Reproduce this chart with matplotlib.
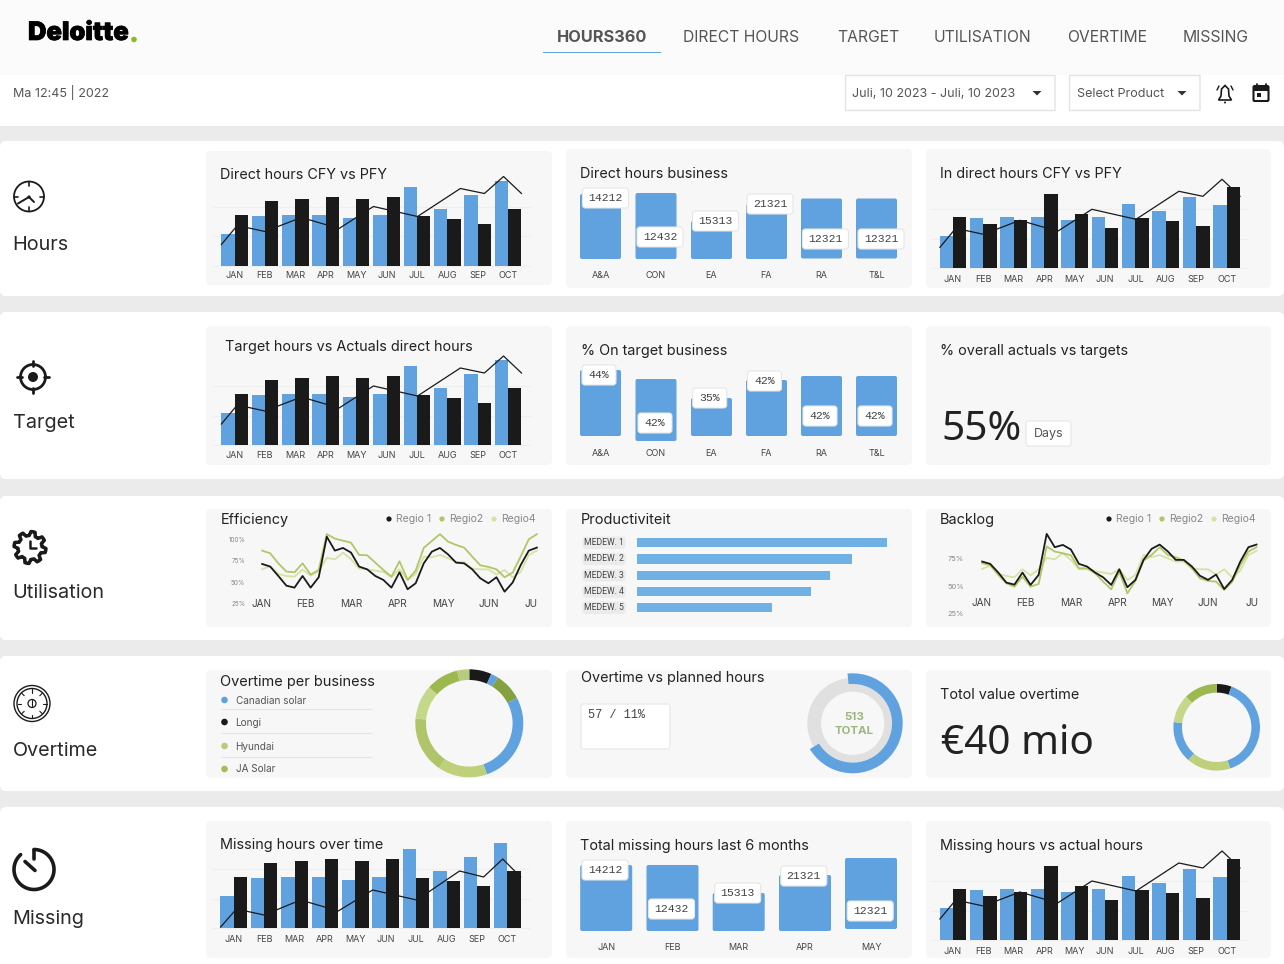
import numpy as np
import matplotlib
matplotlib.use("Agg")
import matplotlib.pyplot as plt
import matplotlib.patheffects as pe
from matplotlib.patches import FancyBboxPatch, Circle, Polygon, Rectangle

plt.rcParams['font.family'] = ['Inter', 'DejaVu Sans']

W, H = 1284, 964

BLUE = "#5fa2df"
BLACK = "#1a1a1a"
GREEN_MID = "#b0c766"
GREEN_LIGHT = "#d5e3a3"
GREEN_A = "#bdd07a"
GREEN_B = "#b0c56a"
GREEN_C = "#c5d88a"
GREEN_D = "#9db84e"
GREEN_E = "#85a03f"
TEXT = "#222222"
GREY = "#555555"

# data
months = ["JAN", "FEB", "MAR", "APR", "MAY", "JUN", "JUL", "AUG", "SEP", "OCT"]
direct_cfy = [32, 50, 51, 51, 48, 51, 79, 57, 71, 85]
direct_pfy = [51, 65, 67, 69, 67, 69, 50, 47, 42, 57]
trend_x = [-0.43, 0.09, 1.0, 2.2, 3.44, 4.57, 6.02, 7.43, 8.22, 8.85, 9.44]
direct_trend = [21, 40, 34, 48, 37, 59, 49, 77, 72, 89, 72]
missing_trend = [1, 19, 13, 28, 17, 38, 28, 57, 51, 69, 51]
indirect_cfy = [32, 50, 51, 51, 48, 51, 64, 57, 71, 63]
indirect_pfy = [51, 44, 48, 74, 54, 40, 50, 47, 42, 81]

business = ["A&A", "CON", "EA", "FA", "RA", "T&L"]
business_hours = [65, 66, 38, 55, 60, 60]
business_labels = ["14212", "12432", "15313", "21321", "12321", "12321"]
target_pct = [66, 62, 38, 56, 60, 60]
target_labels = ["44%", "42%", "35%", "42%", "42%", "42%"]
six_months = ["JAN", "FEB", "MAR", "APR", "MAY"]
missing_hours = [66, 66, 38, 56, 71]
missing_labels = ["14212", "12432", "15313", "21321", "12321"]

eff_months = ["JAN", "FEB", "MAR", "APR", "MAY", "JUN", "JU"]
eff_regio1 = [71.3, 68.2, 57.3, 46, 43.7, 57.3, 43.7, 55.8, 103, 86.8, 89.9, 84.5, 68.2, 65, 57.3, 52.7, 43.7, 61.6,
              41.8, 48.8, 72, 85.6, 89.9, 82.5, 72.8, 72, 65, 54.6, 48.8, 55.8, 39, 49.6, 70, 86.8, 90.3]
eff_regio2 = [86.8, 83.7, 72, 62.4, 61.6, 72, 58.9, 64.3, 106, 100.8, 98.4, 96, 81.8, 81.4, 72.8, 64.3, 56.5, 74.4,
              52.7, 63.5, 90, 98, 106, 97.3, 93.4, 90.3, 79.8, 69.7, 67.8, 65, 55.8, 61.2, 80, 100, 106]
eff_regio4 = [65, 68.6, 59.6, 57.3, 56.5, 64.7, 57.7, 63, 78.3, 76.7, 84.5, 76.7, 65.9, 65, 63.5, 62, 55.8, 65,
              52.7, 59.6, 79.8, 79, 81.8, 78, 73.6, 73.6, 65.9, 65, 65, 59, 64.3, 55.8, 62, 81.8, 86.8]
back_regio1 = [72.3, 70.2, 62.3, 53.2, 51.4, 62.3, 51.1, 60.2, 97.4, 85.3, 87.4, 83.2, 70.2, 67.8, 62.3, 58, 51.1, 65.3,
               49, 55.7, 73.8, 83.8, 87.7, 81.6, 73.8, 73.8, 67.8, 59.4, 55.7, 60.5, 47.4, 55.7, 72.3, 85.3, 87.7]
back_regio2 = [70.8, 68.9, 60.2, 52.6, 49.5, 58.6, 49.5, 52, 85.9, 81.4, 79.8, 78, 66.2, 66.2, 61.7, 54.1, 47.1, 63.2,
               43.5, 54.7, 73.2, 78.3, 85.3, 78.3, 76.2, 73.2, 66.2, 57.1, 54.7, 54.1, 46.5, 54.1, 69.2, 81.4, 85.3]
back_regio4 = [65.6, 68.6, 61.1, 59.2, 58, 65.3, 59.8, 65.3, 75.6, 74.4, 79.8, 73.8, 65.3, 65.3, 63.5, 62.3, 61.1, 65.3,
               55.6, 60.2, 78.3, 76.2, 78.3, 75.3, 72.3, 72.3, 66.2, 65.3, 65.3, 60.5, 65.3, 58, 64.1, 78.3, 82]

medew = ["MEDEW. 1", "MEDEW. 2", "MEDEW. 3", "MEDEW. 4", "MEDEW. 5"]
medew_values = [250, 215, 193, 174, 135]

overtime_names = ["Canadian solar", "Longi", "Hyundai", "JA Solar"]
overtime_slices = [24, 8, 30, 99, 53, 61, 37, 35, 13]
planned_slices = [245, 115]
total_slices = [20, 142, 59, 56, 38, 45]

fig = plt.figure(figsize=(W / 100, H / 100), dpi=100, facecolor="white")
page = fig.add_axes([0, 0, 1, 1])
page.set_xlim(0, W)
page.set_ylim(H, 0)
page.axis("off")


def px_axes(x0, y0, x1, y1):
    ax = fig.add_axes([x0 / W, 1 - y1 / H, (x1 - x0) / W, (y1 - y0) / H])
    ax.patch.set_visible(False)
    for s in ax.spines.values():
        s.set_visible(False)
    return ax


def label(x, y, s, px, color=TEXT, ha="left", **kw):
    # va=center sits a little high for this font
    return page.text(x, y + 1, s, fontsize=px * 0.72, color=color, ha=ha, va="center", **kw)


def box(x0, y0, x1, y1, fc, ec="none", r=5, lw=1.0):
    page.add_patch(FancyBboxPatch((x0 + r, y0 + r), x1 - x0 - 2 * r, y1 - y0 - 2 * r,
                                  boxstyle="round,pad=%f,rounding_size=%f" % (r, r),
                                  fc=fc, ec=ec, lw=lw))


def stroke(xs, ys, lw=1.5, color=BLACK):
    page.plot(xs, ys, color=color, lw=lw, solid_capstyle="round")


def ring(cx, cy, r, lw=1.5, fc="none"):
    page.add_patch(Circle((cx, cy), r, fc=fc, ec=BLACK, lw=lw))


def bars_line(x_first, baseline, label_y, blue, black, trend):
    step = 30.4
    ax = px_axes(x_first - 22, baseline - 112, x_first + 296, label_y)
    ax.set_xlim(-22 / step, 296 / step)
    ax.set_ylim(baseline - label_y, 112)
    idx = np.arange(len(months))
    ax.set_axisbelow(True)
    ax.bar(idx - 0.22, blue, width=0.44, color=BLUE)
    ax.bar(idx + 0.22, black, width=0.44, color=BLACK)
    ax.plot(trend_x, trend, color=BLACK, lw=0.9)
    ax.set_yticks([0, 29.5, 59], ["", "", ""])
    ax.yaxis.grid(True, color="#efefef", lw=0.8)
    ax.set_xticks(idx, months, va="center", fontsize=6.5, color="#444444")
    ax.tick_params(length=0, pad=0)


def round_bars(xs, baseline, label_y, bar_w, values, dips, cats, texts, pill_x, pill_y, pill_w):
    x0, x1 = xs[0] - bar_w, xs[-1] + bar_w
    ax = px_axes(x0, baseline - 90, x1, label_y)
    ax.set_xlim(x0, x1)
    ax.set_ylim(baseline - label_y, 90)
    bars = ax.bar(xs, values, width=bar_w, bottom=dips, color=BLUE)
    for b in bars:
        b.set_visible(False)
        r = 2
        ax.add_patch(FancyBboxPatch((b.get_x() + r, b.get_y() + r), b.get_width() - 2 * r, b.get_height() - 2 * r,
                                    boxstyle="round,pad=%d,rounding_size=%d" % (r, r), fc=BLUE, ec="none"))
    ax.set_xticks(xs, cats, va="center", fontsize=6.5, color="#444444")
    ax.tick_params(length=0, pad=0)
    ax.set_yticks([])
    for t, px_, py in zip(texts, pill_x, pill_y):
        ax.add_patch(FancyBboxPatch((px_ - pill_w / 2 + 3, py - 7), pill_w - 6, 14,
                                    boxstyle="round,pad=3,rounding_size=3", fc="white", ec="#e6e6e6", lw=0.8,
                                    zorder=4, clip_on=False))
        ax.text(px_, py, t, family=["Liberation Mono", "DejaVu Sans"], fontsize=8.2, color="#444444",
                ha="center", va="center", zorder=5, clip_on=False)


def region_lines(ax, r1, r2, r4):
    xs = 0.01 + 0.1777 * np.arange(len(r1))
    ax.plot(xs, r4, color=GREEN_LIGHT, lw=1.3)
    ax.plot(xs, r2, color=GREEN_MID, lw=1.3)
    ax.plot(xs, r1, color=BLACK, lw=1.3)


def region_legend(x):
    for dx, name, c in [(0, "Regio 1", BLACK), (53, "Regio2", GREEN_MID), (105, "Regio4", GREEN_LIGHT)]:
        page.add_patch(Circle((x + dx, 519), 2.6, fc=c, ec="none"))
        label(x + dx + 7, 518.5, name, 10.5, color="#888888")


def donut(cx, cy, r, inner, values, colors):
    ax = px_axes(cx - r, cy - r, cx + r, cy + r)
    ax.pie(values, colors=colors, startangle=90, counterclock=False, radius=1,
           wedgeprops=dict(width=1 - inner / r))
    ax.set_xlim(-1, 1)
    ax.set_ylim(-1, 1)
    return ax


# page background and cards
page.add_patch(Rectangle((0, 0), W, 75, fc="#fbfbfb", ec="none"))
page.add_patch(Rectangle((0, 125.5), W, H, fc="#ebebeb", ec="none"))
for y0, y1 in [(141, 296), (312, 479), (496, 640), (656, 791), (807, 975)]:
    box(0, y0, W, y1, "white", r=6)

panels = [(206, 151, 552, 285), (566, 149, 912, 288), (926, 149, 1271, 288),
          (206, 326, 552, 465), (566, 326, 912, 465), (926, 326, 1271, 465),
          (206, 509, 552, 627), (566, 509, 912, 627), (926, 509, 1271, 627),
          (206, 670, 552, 778), (566, 670, 912, 778), (926, 670, 1271, 778),
          (206, 821, 552, 958), (566, 821, 912, 958), (926, 821, 1271, 958)]
for p in panels:
    box(*p, "#f7f7f7")

# header
logo = label(28, 32.5, "Deloitte", 25.5, color="black", fontweight="black")
logo.set_path_effects([pe.withStroke(linewidth=0.5, foreground="black")])
page.add_patch(Circle((134, 39.5), 2.8, fc="#86bc25", ec="none"))
label(557, 37, "HOURS360", 16.3, color=GREY, fontweight="bold")
for x, s in [(683, "DIRECT HOURS"), (837, "TARGET"), (934, "UTILISATION"), (1067, "OVERTIME"), (1183, "MISSING")]:
    label(x, 37, s, 15.7, color=GREY)
page.add_patch(Rectangle((543, 51.5), 118, 1.6, fc=BLUE, ec="none"))
label(13, 92, "Ma 12:45 | 2022", 12.5, color=GREY)

box(845.5, 75.5, 1055, 110.5, "white", ec="#e3e3e3", r=0.1)
box(1069.5, 75.5, 1200, 110.5, "white", ec="#e3e3e3", r=0.1)
label(852.5, 93, "Juli, 10 2023 - Juli, 10 2023", 12.5, color=GREY)
label(1077, 93, "Select Product", 12.5, color=GREY)
for x in [1037, 1182]:
    page.add_patch(Polygon([(x - 4.5, 91), (x + 4.5, 91), (x, 95.5)], fc="#333333", ec="none"))

# bell
page.add_patch(Polygon([(1218.5, 100), (1231.5, 100), (1229, 96), (1228.5, 89), (1225, 85.5), (1221.5, 89), (1221, 96)],
                       fc="white", ec=BLACK, lw=1.2))
stroke([1217, 1219], [90, 86], lw=1)
stroke([1233, 1231], [90, 86], lw=1)
page.add_patch(Circle((1225, 102.5), 1, fc=BLACK, ec="none"))
# calendar
box(1253.5, 86, 1268.5, 101, "white", ec=BLACK, r=1.2, lw=1.5)
page.add_patch(Rectangle((1253.5, 86), 15, 4.5, fc=BLACK, ec="none"))
stroke([1256.5, 1256.5], [84, 87], lw=1.3)
stroke([1265.5, 1265.5], [84, 87], lw=1.3)
page.add_patch(Rectangle((1256.5, 93), 4, 4, fc=BLACK, ec="none"))

# row names and icons
for y, s in [(244, "Hours"), (421.5, "Target"), (592, "Utilisation"), (750, "Overtime"), (918, "Missing")]:
    label(12.5, y, s, 19.8, color="#2a2a2a")

# hours icon
ring(29, 196.5, 15, lw=1.3)
stroke([18, 29, 34], [203.5, 197, 202], lw=1.4)
page.add_patch(Circle((29, 197), 1.6, fc=BLACK, ec="none"))
stroke([29, 29], [182, 186], lw=1.2)
stroke([29, 29], [207, 211], lw=1.2)
stroke([14, 18], [196.5, 196.5], lw=1.2)
stroke([40, 44], [196.5, 196.5], lw=1.2)

# target icon
ring(33, 377, 12.5, lw=2)
page.add_patch(Circle((33, 377), 5, fc=BLACK, ec="none"))
stroke([33, 33], [361, 366], lw=2)
stroke([33, 33], [388, 393], lw=2)
stroke([17, 22], [377, 377], lw=2)
stroke([44, 49], [377, 377], lw=2)

# gear icon
angles = np.deg2rad(np.arange(0, 360, 7.5) + 11)
radii = np.where(((np.arange(48) + 1) % 6) < 3, 16, 12)
page.add_patch(Polygon(np.c_[30 + radii * np.cos(angles), 547.5 + radii * np.sin(angles)],
                       fc="white", ec=BLACK, lw=2.5, joinstyle="round"))
stroke([30, 30, 36], [541, 548, 548], lw=1.8)

# overtime icon
ring(32, 703.5, 18, lw=1)
ring(32, 703.5, 15, lw=1)
ring(32, 703.5, 4, lw=0.9)
for a in np.deg2rad(np.arange(0, 360, 45)):
    stroke([32 + 11 * np.cos(a), 32 + 14.5 * np.cos(a)], [703.5 + 11 * np.sin(a), 703.5 + 14.5 * np.sin(a)], lw=0.8)
stroke([32, 32], [700, 706], lw=0.8)

# missing icon
t = np.deg2rad(np.linspace(0, 318, 90))
stroke(34 + 20 * np.sin(t), 869.5 - 20 * np.cos(t), lw=2.6)
stroke([34, 34], [849.5, 859], lw=2.6)
stroke([25, 35], [861.5, 870.5], lw=2.6)

# row 1
label(220.5, 174, "Direct hours CFY vs PFY", 14.4)
bars_line(234.5, 265.5, 276, direct_cfy, direct_pfy, direct_trend)
label(580.5, 173, "Direct hours business", 14.4)
biz_x = [600.5, 656, 711.5, 766.5, 821.5, 876.5]
round_bars(biz_x, 259, 276, 41, business_hours, [0, 0, 0, 0, 0.5, 0.5], business, business_labels,
           [605.5, 660, 715.5, 770, 825.5, 881], [61, 22, 38, 55, 20, 20], 46)
label(940, 173, "In direct hours CFY vs PFY", 14.4)
bars_line(953, 268.3, 279, indirect_cfy, indirect_pfy, direct_trend)

# row 2
label(225, 346.5, "Target hours vs Actuals direct hours", 14.4)
bars_line(234.5, 445, 456, direct_cfy, direct_pfy, direct_trend)
label(581, 350.5, "% On target business", 14.4)
round_bars(biz_x, 436, 453, 41, target_pct, [0, -5, 0, 0, 0, 0], business, target_labels,
           [599, 655, 709.7, 764.5, 820, 875], [61, 13, 38, 55, 20, 20], 34)
label(940.5, 350, "% overall actuals vs targets", 14.4)
page.text(941, 430, "55%", family=["Noto Sans", "DejaVu Sans"], fontsize=40.5 * 0.72, color=TEXT, va="center")
box(1026, 421, 1071, 446, "white", ec="#eaeaea", r=2.5)
label(1048.5, 433.5, "Days", 12.5, color=GREY, ha="center")

# row 3
label(220.5, 519, "Efficiency", 14.5)
region_legend(389)
ax = px_axes(248, 526.4, 545, 603.7)
ax.set_xlim((248 - 261.7) / 45.47, (545 - 261.7) / 45.47)
ax.set_ylim(25, 115)
region_lines(ax, eff_regio1, eff_regio2, eff_regio4)
ax.set_xticks([0, 0.97, 1.98, 3.0, 4.0, 5.0, 5.92], eff_months, va="center", fontsize=7.2, color="#444444")
ax.set_yticks([25, 50, 75, 100], ["25%", "50%", "75%", "100%"], fontsize=4.6, color="#888888")
ax.tick_params(length=0, pad=2)
ax.tick_params(axis="x", pad=0)

label(580.5, 519, "Productiviteit", 14.5)
ax = px_axes(580, 533, 895, 617.45)
ax.set_xlim(580, 895)
ax.set_ylim(len(medew) - 0.4, -0.6)
ax.barh(np.arange(len(medew)), medew_values, left=637.3, height=0.57, color="#6fb1e5")
ax.set_yticks([])
ax.set_xticks([])
for i, name in enumerate(medew):
    ax.text(604, i, name, fontsize=6.2, family=["Roboto", "DejaVu Sans"], color="#444444", ha="center", va="center",
            bbox=dict(boxstyle="round,pad=0.2,rounding_size=0.4", fc="#ebebeb", ec="none"))

label(940, 519, "Backlog", 14.5)
region_legend(1109)
ax = px_axes(967, 520, 1262, 613.7)
ax.set_xlim((967 - 981.7) / 45.4, (1262 - 981.7) / 45.4)
ax.set_ylim(25, 110)
region_lines(ax, back_regio1, back_regio2, back_regio4)
ax.set_xticks([0, 0.96, 1.97, 2.99, 3.98, 4.99, 5.95], eff_months, va="center", fontsize=7.2, color="#444444")
ax.set_yticks([25, 50, 75], ["25%", "50%", "75%"], fontsize=5.4, color="#888888")
ax.tick_params(length=0, pad=2)
ax.tick_params(axis="x", pad=-7.5)

# row 4
label(220.5, 681, "Overtime per business", 14.5)
for y, name, c in zip([700, 722, 746, 769], overtime_names, [BLUE, BLACK, "#b8cc7a", "#a5bd55"]):
    page.add_patch(Circle((224.5, y), 3.3, fc=c, ec="none"))
    label(235.5, y - 0.5, name, 10, color=GREY)
for y in [709, 733, 757]:
    page.plot([221, 371], [y, y], color="#e4e4e4", lw=0.8)
donut(469.3, 723.3, 54, 43.3, overtime_slices,
      [BLACK, BLUE, GREEN_E, BLUE, GREEN_A, GREEN_B, GREEN_C, GREEN_D, "#b8cc7f"])

label(581, 677, "Overtime vs planned hours", 14.4)
box(581, 704, 670, 749, "white", ec="#eaeaea", r=2.5)
page.text(588, 715, "57 / 11%", family=["Liberation Mono", "DejaVu Sans"], fontsize=8.6, color="#444444", va="center")
ax = px_axes(802.7, 673.3, 902.7, 773.3)
ax.pie([1], colors=["#e0e0e0"], radius=0.907, wedgeprops=dict(width=0.274))
ax.pie(planned_slices, colors=[BLUE, "none"], startangle=96, counterclock=False, radius=1,
       wedgeprops=dict(width=0.213))
ax.set_xlim(-1, 1)
ax.set_ylim(-1, 1)
label(854, 716.5, "513", 11.5, color="#9bb87a", ha="center", fontweight="bold")
label(854, 730.5, "TOTAL", 11.5, color="#9bb87a", ha="center", fontweight="bold")

label(940.5, 694, "Totol value overtime", 14.4)
page.text(941, 744.5, "€40 mio", family=["Noto Sans", "DejaVu Sans"], fontsize=40.5 * 0.72, color=TEXT, va="center")
donut(1216.7, 727.3, 43.3, 34.7, total_slices, [BLACK, BLUE, GREEN_A, BLUE, GREEN_C, GREEN_D])

# row 5
label(220.5, 843.5, "Missing hours over time", 14.4)
bars_line(233.7, 928, 939, direct_cfy, direct_pfy, missing_trend)
label(580.5, 845, "Total missing hours last 6 months", 14.4)
round_bars([606.2, 672.5, 738.7, 805, 871], 931, 948, 52, missing_hours, [0, 0, 0, 0, 2], six_months, missing_labels,
           [605, 671.5, 737.7, 803.8, 870.2], [61, 22, 38, 55, 20], 46)
label(940, 845, "Missing hours vs actual hours", 14.4)
bars_line(953, 940, 951, indirect_cfy, indirect_pfy, direct_trend)

fig.savefig("out.png", dpi=100, facecolor="white")
